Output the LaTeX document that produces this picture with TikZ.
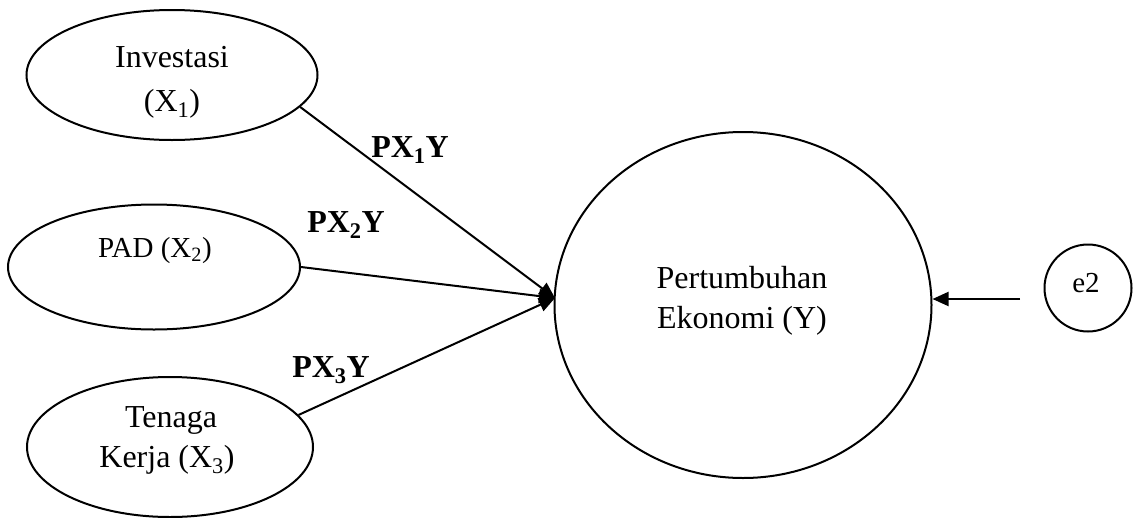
\documentclass[tikz,border=0pt]{standalone}
\usepackage{fontspec}
\setmainfont{Liberation Serif}
\usetikzlibrary{shapes.geometric,arrows.meta}
\begin{document}
\begin{tikzpicture}[x=1pt,y=-1pt,
  var/.style={draw,ellipse,line width=2pt,inner sep=0pt},
  txt/.style={anchor=base,inner sep=0pt,font=\fontsize{32}{38}\selectfont},
  txtsm/.style={anchor=base,inner sep=0pt,font=\fontsize{29}{34}\selectfont},
  coef/.style={anchor=base,inner sep=0pt,font=\fontsize{32}{38}\selectfont\bfseries},
  link/.style={line width=2pt,-{Triangle[length=16pt,width=14pt]}}]
\useasboundingbox (0,0) rectangle (1133,517);

% latent variables
\node[var,minimum width=291pt,minimum height=130pt] (inv) at (172,75) {};
\node[var,minimum width=292pt,minimum height=125pt] (pad) at (154,267) {};
\node[var,minimum width=286pt,minimum height=140pt] (tk) at (170,447) {};
\node[var,minimum width=377pt,minimum height=346pt] (Y) at (743,305) {};
\node[var,minimum width=87pt,minimum height=87pt] (e2) at (1088,288) {};

% variable names
\node[txt] (invA) at (172,67) {Investasi};
\node[txt] (invB) at (172,111) {(X\textsubscript{1})};
\node[txtsm] (padA) at (155,257) {PAD (X\textsubscript{2})};
\node[txt] (tkA) at (171,427) {Tenaga};
\node[txt] (tkB) at (167,467) {Kerja (X\textsubscript{3})};
\node[txt] (yA) at (742,288) {Pertumbuhan};
\node[txt] (yB) at (742,328) {Ekonomi (Y)};
\node[txtsm] (e2A) at (1086,292) {e2};

% path coefficients
\node[coef] (p1) at (410,157) {PX\textsubscript{1}Y};
\node[coef] (p2) at (346,232) {PX\textsubscript{2}Y};
\node[coef] (p3) at (331,377) {PX\textsubscript{3}Y};

% paths into Y
\coordinate (hub) at (555,298);
\draw[link] (inv.-14) -- (hub);
\draw[link] (pad.east) -- (hub);
\draw[link] (tk.14) -- (hub);

% error term
\coordinate (etail) at (1020,299);
\draw[link] (etail) -- (Y.east |- etail);
\end{tikzpicture}
\end{document}
